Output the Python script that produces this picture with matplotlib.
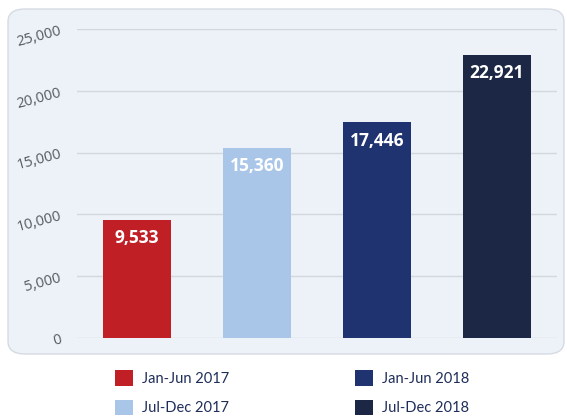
import matplotlib
matplotlib.use("Agg")
import matplotlib.pyplot as plt
from matplotlib.patches import FancyBboxPatch, Patch

categories = ["Jan-Jun 2017", "Jul-Dec 2017", "Jan-Jun 2018", "Jul-Dec 2018"]
values = [9533, 15360, 17446, 22921]
colors = ["#c01f26", "#a9c6e8", "#1f3370", "#1b2745"]
yticks = [0, 5000, 10000, 15000, 20000, 25000]

plt.rcParams['font.family'] = ['Lato', 'DejaVu Sans']

fig = plt.figure(figsize=(5.67, 4.18), dpi=100)
fig.patch.set_facecolor("white")

panel = FancyBboxPatch((8/567, 1-354/418), (564-8)/567, (354-9)/418,
                       boxstyle="round,pad=0,rounding_size=0.03",
                       transform=fig.transFigure, facecolor="#edf1f8",
                       edgecolor="#d6dbe3", linewidth=1.0, zorder=-5)
fig.patches.append(panel)

ax = fig.add_axes([77/567, 1-338/418, 480/567, (338-29)/418])
ax.set_zorder(2)
ax.set_facecolor("none")
x = list(range(len(categories)))
bars = ax.bar(x, values, width=0.567, color=colors, zorder=3)
ax.set_xlim(-0.5, 3.5)
ax.set_ylim(0, 25000)
ax.set_yticks(yticks)
ax.set_yticklabels([f"{v:,}" for v in yticks], rotation=15, color="#555a60",
                   fontsize=10.5, fontfamily=['Open Sans', 'DejaVu Sans'])
ax.tick_params(axis='y', length=0, pad=10)
ax.set_xticks([])
ax.grid(axis='y', color="#d3d7de", linewidth=1.0, zorder=0)
for s in ax.spines.values():
    s.set_visible(False)

for xi, v in zip(x, values):
    ax.text(xi, v - 750, f"{v:,}", ha='center', va='top', color='white',
            fontsize=12.5, fontweight='bold', fontfamily=['Open Sans', 'DejaVu Sans'])

handles = [Patch(facecolor=c, edgecolor='none') for c in colors]
leg = fig.legend(handles, categories, ncol=2, loc='upper left',
                 bbox_to_anchor=(102/567, 1-357/418), frameon=False,
                 fontsize=10.5, handlelength=1.25, handleheight=1.25,
                 handletextpad=0.6, columnspacing=8.6, labelspacing=0.95)
for t in leg.get_texts():
    t.set_color("#1f2d5a")

fig.savefig("out.png", dpi=100)
